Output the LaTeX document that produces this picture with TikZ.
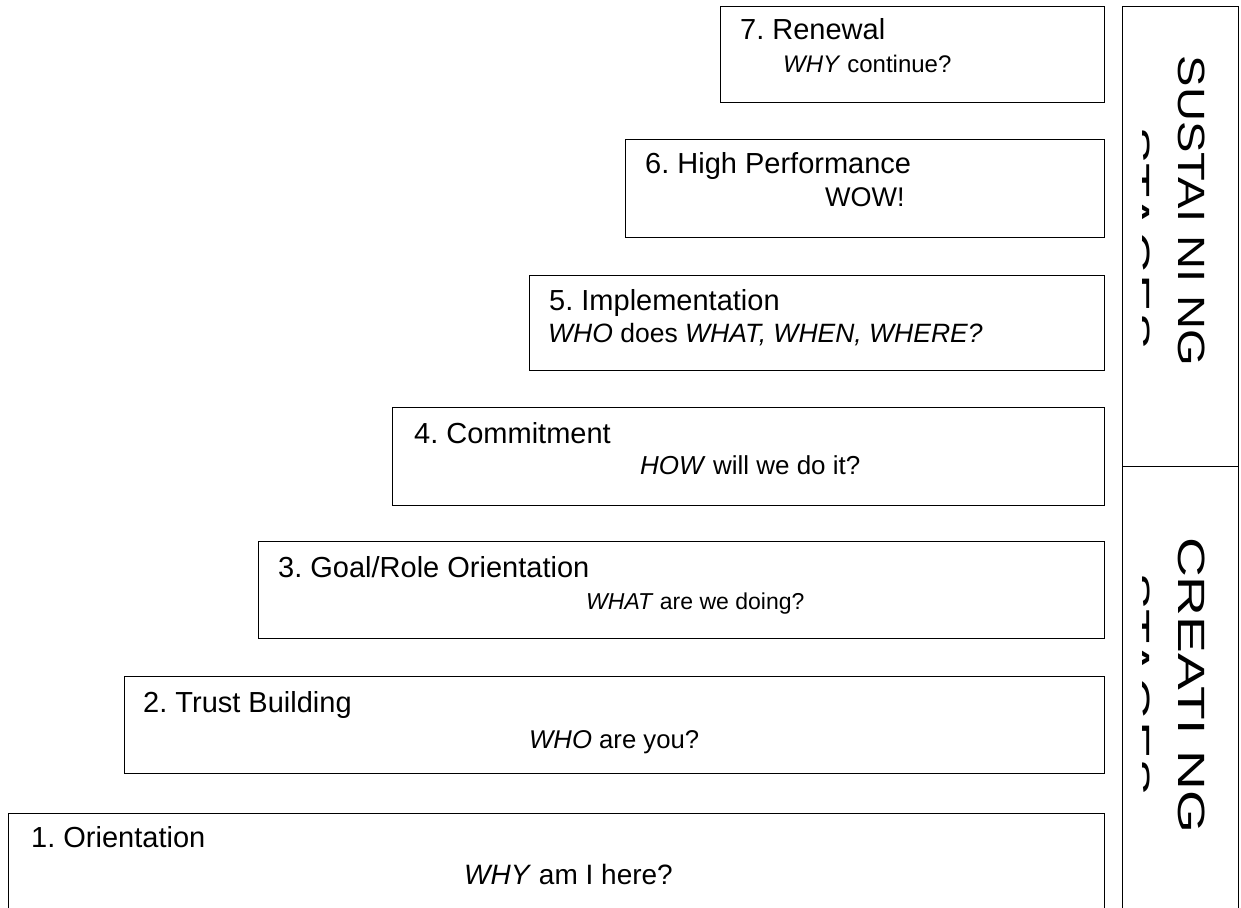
\documentclass[tikz,border=0pt]{standalone}
\usepackage{fontspec}
\setmainfont{Liberation Sans}
\frenchspacing
\begin{document}
\begin{tikzpicture}[x=1pt,y=-1pt,
  stagebox/.style={draw=black,line width=1.4pt,fill=white,anchor=north west,inner sep=0pt},
  titletext/.style={anchor=base west,inner sep=0pt,font=\fontsize{29}{34}\selectfont},
  asktext/.style={anchor=base west,inner sep=0pt},
  sidetext/.style={anchor=base,inner sep=0pt,rotate=-90,transform shape,font=\fontsize{38}{44}\selectfont}]
\useasboundingbox (0,0) rectangle (1241,907);
% column
\node[stagebox,minimum width=116pt,minimum height=460pt] (sus) at (1122,6) {};
\node[stagebox,minimum width=116pt,minimum height=460pt] (cre) at (1122,466) {};
% boxes
\node[stagebox,minimum width=384pt,minimum height=96pt] (b7) at (720,6) {};
\node[stagebox,minimum width=479pt,minimum height=98pt] (b6) at (625,139) {};
\node[stagebox,minimum width=575pt,minimum height=95pt] (b5) at (529,275) {};
\node[stagebox,minimum width=712pt,minimum height=98pt] (b4) at (392,407) {};
\node[stagebox,minimum width=846pt,minimum height=97pt] (b3) at (258,541) {};
\node[stagebox,minimum width=980pt,minimum height=97pt] (b2) at (124,676) {};
\node[stagebox,minimum width=1096pt,minimum height=120pt] (b1) at (8,813) {};
% texts
\node[titletext] (t7) at (740,40) {7. Renewal};
\node[asktext,font=\fontsize{24}{28}\selectfont] (q7) at (783,73) {\emph{WHY} continue?};
\node[titletext] (t6) at (645,173) {6. High Performance};
\node[asktext,font=\fontsize{27}{32}\selectfont] (q6) at (825,206) {WOW!};
\node[titletext] (t5) at (549,310) {5. Implementation};
\node[asktext,font=\fontsize{26.5}{32}\selectfont] (q5) at (548,342) {\emph{WHO} does \emph{WHAT, WHEN, WHERE?}};
\node[titletext] (t4) at (414,443) {4. Commitment};
\node[asktext,font=\fontsize{26}{32}\selectfont] (q4) at (640,474) {\emph{HOW} will we do it?};
\node[titletext] (t3) at (278,577) {3. Goal/Role Orientation};
\node[asktext,font=\fontsize{23}{28}\selectfont] (q3) at (586,609) {\emph{WHAT} are we doing?};
\node[titletext] (t2) at (143,712) {2. Trust Building};
\node[asktext,font=\fontsize{25.7}{30}\selectfont] (q2) at (529,748) {\emph{WHO} are you?};
\node[titletext] (t1) at (31,847) {1. Orientation};
\node[asktext,font=\fontsize{28}{32}\selectfont] (q1) at (464,884) {\emph{WHY} am I here?};
% rotated labels
\node[sidetext,xscale=1.24] (s1) at (1178,211) {SUSTAI NI NG};
\node[sidetext,xscale=1.45] (c1) at (1178,685) {CREATI NG};
\begin{scope}
\clip (1142,8) rectangle (1236,905);
\node[sidetext,xscale=1.48] (s2) at (1123,238) {STAGES};
\node[sidetext,xscale=1.48] (c2) at (1123,684) {STAGES};
\end{scope}
\end{tikzpicture}
\end{document}
